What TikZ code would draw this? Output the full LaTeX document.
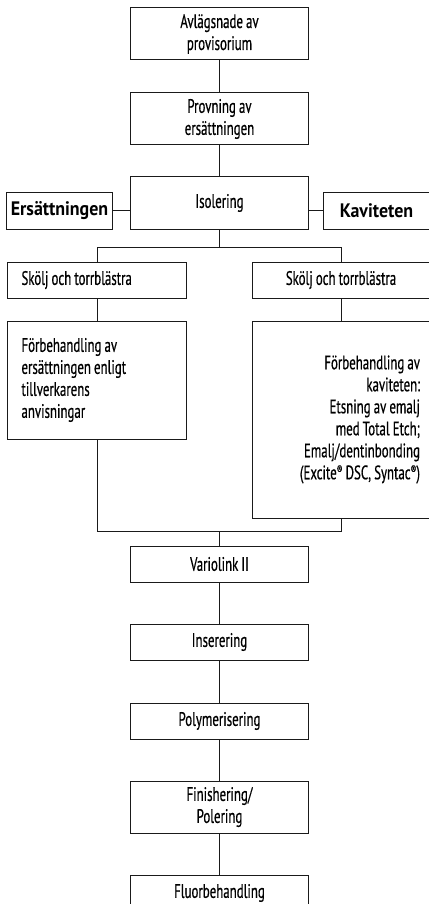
\documentclass[tikz,border=0pt]{standalone}
\usepackage{fontspec}
\setmainfont{PT Sans}[FakeStretch=0.66,FakeBold=0.5,WordSpace=0.9,
  BoldFeatures={FakeStretch=0.92,FakeBold=0}]
\usepackage{xcolor}
\definecolor{cLine}{HTML}{1A1A1A}
\usepackage{tikz}
\usetikzlibrary{positioning}
\newcommand{\regmark}{\raisebox{5pt}{\fontsize{12.5}{12}\selectfont ®}}
\tikzset{
  node-box/.style={draw=cLine,line width=1pt,minimum width=178pt,
    minimum height=36pt,align=center,inner sep=2pt,
    font=\fontsize{19.5}{22}\selectfont},
  node-tall/.style={minimum height=52pt},
  node-side/.style={draw=cLine,line width=1pt,minimum width=106pt,
    minimum height=37pt,inner sep=2pt,font=\fontsize{19.5}{22}\selectfont\bfseries},
  % Text links bzw. rechts im Kasten
  node-left/.style={align=flush left,text width=151pt,inner xsep=14pt},
  node-right/.style={align=flush right,text width=158pt,inner xsep=10pt},
  link/.style={draw=cLine,line width=1pt},
}
\begin{document}
\begin{tikzpicture}[x=1pt,y=1pt,node distance=31pt]
  \useasboundingbox (0,0) rectangle (428,-904);
  \node[node-box,node-tall] (avl) at (219.5,-34) {Avlägsnade av\\provisorium};
  \node[node-box,node-tall,below=32pt of avl] (prov) {Provning av\\ersättningen};
  \node[node-box,node-tall,below=of prov] (iso) {Isolering};
  \node[node-side,anchor=south east] (ers) at ([xshift=-17pt]iso.south west) {Ersättningen};
  \node[node-side,anchor=south west] (kav) at ([xshift=14pt]iso.south east) {Kaviteten};
  \node[node-box,node-left] (skl1) at (97,-280) {Skölj och torrblästra};
  \node[node-box] (skl2) at (341,-280) {Skölj och torrblästra};
  \node[node-box,node-left,minimum height=118pt,below=22pt of skl1] (fbe1)
    {Förbehandling av\\ersättningen enligt\\tillverkarens\\anvisningar};
  \node[node-box,node-right,minimum height=197pt,below=22pt of skl2] (fbe2)
    {Förbehandling av\\kaviteten:\\Etsning av emalj\\med Total Etch;\\Emalj/dentinbonding\\(Excite\regmark\ DSC, Syntac\regmark)};
  \node[node-box] (var) at (219.5,-564) {Variolink II};
  \node[node-box,below=41pt of var] (ins) {Inserering};
  \node[node-box,below=42pt of ins] (pol) {Polymerisering};
  \node[node-box,node-tall,below=41pt of pol] (fin) {Finishering/\\Polering};
  \node[node-box,below=41pt of fin] (flu) {Fluorbehandling};
  \coordinate (jtop) at ([yshift=-18pt]iso.south);
  \coordinate (jbot) at ([yshift=14pt]var.north);
  \draw[link] (avl) -- (prov);
  \draw[link] (prov) -- (iso);
  \draw[link] (ers.east) -- (ers.east -| iso.west);
  \draw[link] (kav.west) -- (kav.west -| iso.east);
  \draw[link] (iso) -- (jtop);
  \draw[link] (skl1.north) |- (jtop) -| (skl2.north);
  \draw[link] (skl1) -- (fbe1);
  \draw[link] (skl2) -- (fbe2);
  \draw[link] (fbe1.south) |- (jbot) -| (fbe2.south);
  \draw[link] (jbot) -- (var);
  \draw[link] (var) -- (ins);
  \draw[link] (ins) -- (pol);
  \draw[link] (pol) -- (fin);
  \draw[link] (fin) -- (flu);
\end{tikzpicture}
\end{document}
